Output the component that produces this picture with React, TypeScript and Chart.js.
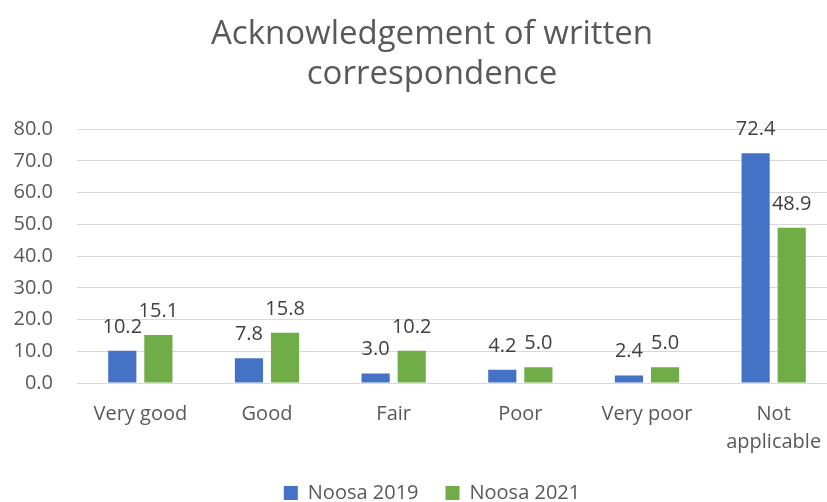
import React, { useEffect, useRef } from "react";
import { Chart, registerables } from "chart.js";

Chart.register(...registerables);

const categories: (string | string[])[] = ["Very good", "Good", "Fair", "Poor", "Very poor", ["Not", "applicable"]];
const noosa2019 = [10.2, 7.8, 3.0, 4.2, 2.4, 72.4];
const noosa2021 = [15.1, 15.8, 10.2, 5.0, 5.0, 48.9];
const seriesNames = ["Noosa 2019", "Noosa 2021"];
const titleLines = ["Acknowledgement of written", "correspondence"];

const FONT = "'Open Sans', Lato, sans-serif";

const dataLabelPlugin = {
  id: "dataLabels",
  afterDatasetsDraw(chart: any) {
    const ctx = chart.ctx;
    ctx.save();
    ctx.font = `20px ${FONT}`;
    ctx.fillStyle = "#404040";
    ctx.textAlign = "center";
    ctx.textBaseline = "alphabetic";
    chart.data.datasets.forEach((ds: any, i: number) => {
      const meta = chart.getDatasetMeta(i);
      meta.data.forEach((bar: any, j: number) => {
        const v = ds.data[j] as number;
        ctx.fillText(v.toFixed(1), bar.x, bar.y - 18);
      });
    });
    ctx.restore();
  },
};

// nudge the legend block upward after layout
const legendShiftPlugin = {
  id: "legendShift",
  afterLayout(chart: any) {
    const lg = chart.legend;
    if (lg) {
      lg.top -= 9;
      lg.bottom -= 9;
    }
  },
};

export default function App() {
  const ref = useRef<HTMLCanvasElement>(null);
  useEffect(() => {
    document.body.style.margin = "0";
    const chart = new Chart(ref.current!, {
      type: "bar",
      data: {
        labels: categories,
        datasets: [
          { label: seriesNames[0], data: noosa2019, backgroundColor: "#4472C4", categoryPercentage: 0.57, barPercentage: 0.78, yAxisID: "y" },
          { label: seriesNames[1], data: noosa2021, backgroundColor: "#70AD47", categoryPercentage: 0.57, barPercentage: 0.78, yAxisID: "y" },
        ],
      },
      options: {
        animation: false,
        responsive: true,
        maintainAspectRatio: false,
        layout: { padding: { left: 0, right: 0, top: 0, bottom: -20 } },
        plugins: {
          title: {
            display: true,
            text: titleLines,
            color: "#595959",
            font: { family: FONT, size: 33, weight: "normal", lineHeight: 1.2 },
            padding: { top: 15, bottom: 35 },
          },
          legend: {
            position: "bottom",
            labels: {
              color: "#595959",
              font: { family: FONT, size: 20 },
              boxWidth: 14,
              boxHeight: 14,
              padding: 27,
            },
          },
          tooltip: { enabled: false },
        },
        scales: {
          x: {
            grid: { display: false },
            border: { display: false },
            ticks: { color: "#595959", font: { family: FONT, size: 20, lineHeight: 1.4 }, padding: 9, maxRotation: 0 },
          },
          y: {
            min: 0,
            max: 80,
            grid: { color: "#d9d9d9", drawTicks: false },
            border: { display: false },
            afterFit: (scale: any) => { scale.width = 77; },
            ticks: {
              stepSize: 10,
              color: "#595959",
              font: { family: FONT, size: 20 },
              padding: 24,
              callback: (v: any) => Number(v).toFixed(1),
            },
          },
          yRight: {
            position: "right",
            display: true,
            grid: { display: false },
            border: { display: false },
            ticks: { display: false },
            afterFit: (scale: any) => { scale.width = 27; },
          },
        },
      },
      plugins: [dataLabelPlugin, legendShiftPlugin],
    });
    return () => chart.destroy();
  }, []);
  return (
    <div style={{ width: 827, height: 502, overflow: "hidden" }}>
      <div style={{ width: 864, height: 502 }}>
        <canvas ref={ref} />
      </div>
    </div>
  );
}
